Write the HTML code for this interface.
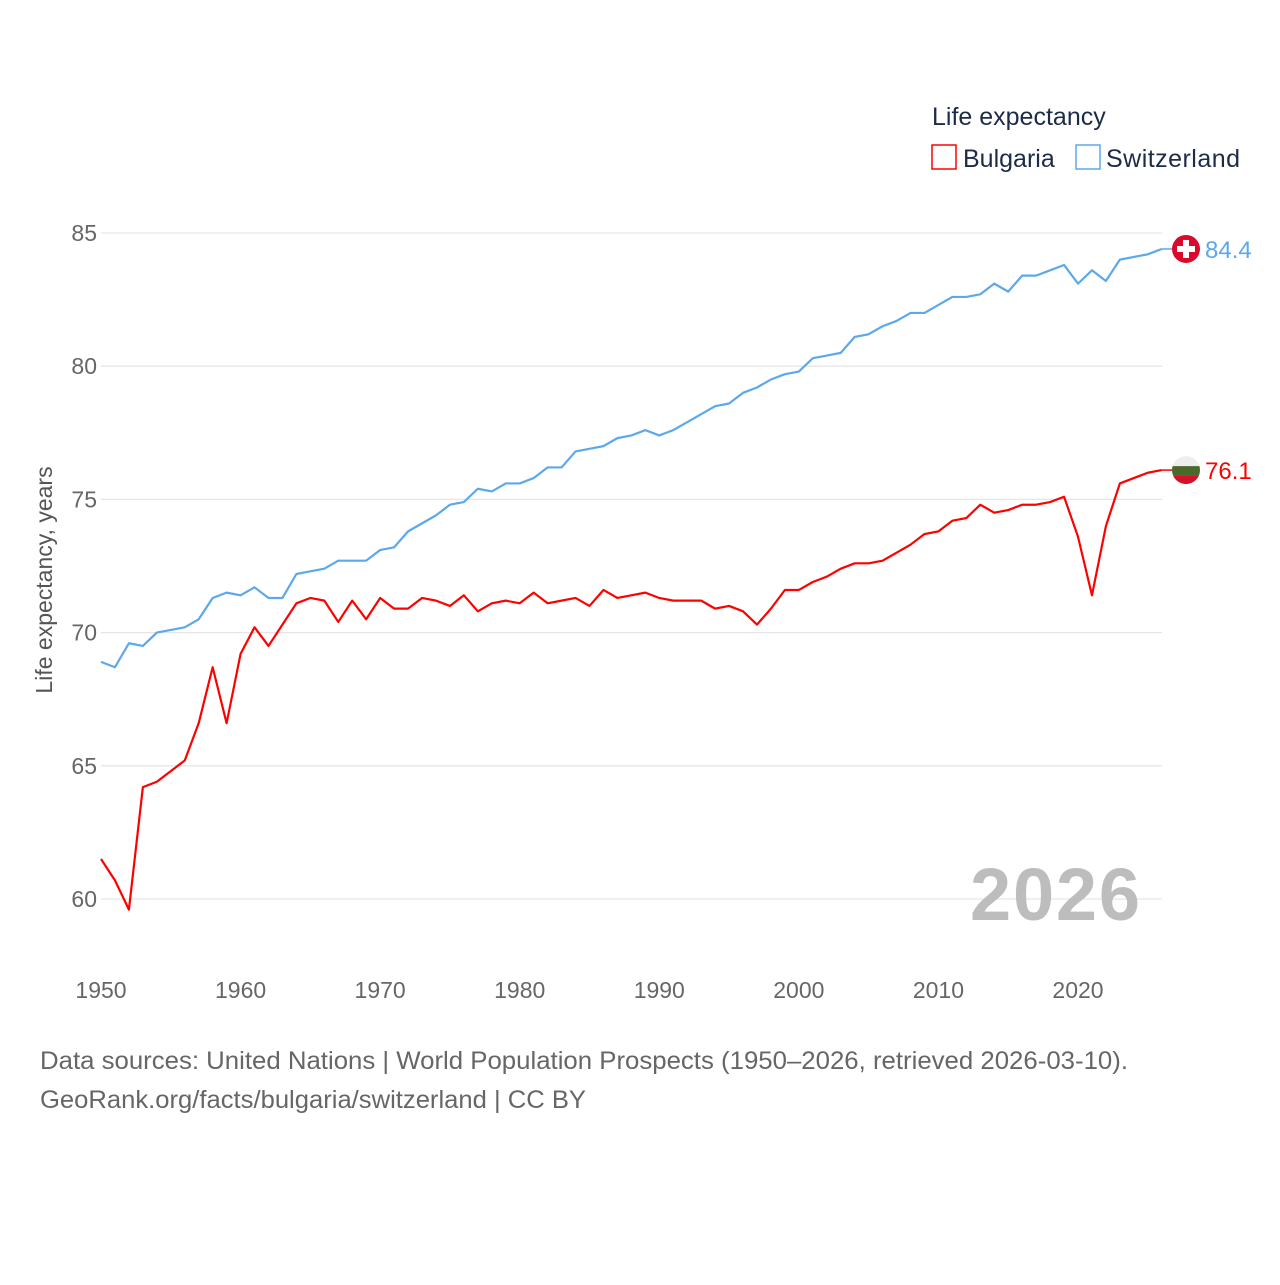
<!DOCTYPE html>
<html><head><meta charset="utf-8"><style>
body{margin:0;background:#fff;font-family:"Liberation Sans",sans-serif}
svg text{font-family:"Liberation Sans",sans-serif}
</style></head><body>
<svg width="1280" height="1280" viewBox="0 0 1280 1280" xmlns="http://www.w3.org/2000/svg">
<rect width="1280" height="1280" fill="#fff"/>
<g id="grid"></g>
<g id="yticks"></g>
<g id="xticks"></g>
<text x="1055" y="920" font-size="74" font-weight="bold" fill="#bdbdbd" text-anchor="middle" textLength="170">2026</text>
<text transform="translate(52,580) rotate(-90)" font-size="23" fill="#555" text-anchor="middle">Life expectancy, years</text>
<g id="series"></g>
<g>
<text x="932" y="125" font-size="25" fill="#1c2b48">Life expectancy</text>
<g><rect x="932" y="145" width="24" height="24" fill="none" stroke="#f00" stroke-width="1.5"/><text x="963" y="167" font-size="25" fill="#1c2b48">Bulgaria</text></g>
<g><rect x="1076" y="145" width="24" height="24" fill="none" stroke="#5ca8ec" stroke-width="1.5"/><text x="1106" y="167" font-size="25" fill="#1c2b48" textLength="134">Switzerland</text></g>
</g>
<text x="40" y="1069" font-size="25" fill="#666" textLength="1088" lengthAdjust="spacingAndGlyphs">Data sources: United Nations | World Population Prospects (1950–2026, retrieved 2026-03-10).</text>
<text x="40" y="1108" font-size="25" fill="#666" textLength="546" lengthAdjust="spacingAndGlyphs">GeoRank.org/facts/bulgaria/switzerland | CC BY</text>
</svg>
<script>
const years=[];for(let y=1950;y<=2026;y++)years.push(y);
const bulgaria=[61.5,60.7,59.6,64.2,64.4,64.8,65.2,66.6,68.7,66.6,69.2,70.2,69.5,70.3,71.1,71.3,71.2,70.4,71.2,70.5,71.3,70.9,70.9,71.3,71.2,71.0,71.4,70.8,71.1,71.2,71.1,71.5,71.1,71.2,71.3,71.0,71.6,71.3,71.4,71.5,71.3,71.2,71.2,71.2,70.9,71.0,70.8,70.3,70.9,71.6,71.6,71.9,72.1,72.4,72.6,72.6,72.7,73.0,73.3,73.7,73.8,74.2,74.3,74.8,74.5,74.6,74.8,74.8,74.9,75.1,73.6,71.4,74.0,75.6,75.8,76.0,76.1];
const switzerland=[68.9,68.7,69.6,69.5,70.0,70.1,70.2,70.5,71.3,71.5,71.4,71.7,71.3,71.3,72.2,72.3,72.4,72.7,72.7,72.7,73.1,73.2,73.8,74.1,74.4,74.8,74.9,75.4,75.3,75.6,75.6,75.8,76.2,76.2,76.8,76.9,77.0,77.3,77.4,77.6,77.4,77.6,77.9,78.2,78.5,78.6,79.0,79.2,79.5,79.7,79.8,80.3,80.4,80.5,81.1,81.2,81.5,81.7,82.0,82.0,82.3,82.6,82.6,82.7,83.1,82.8,83.4,83.4,83.6,83.8,83.1,83.6,83.2,84.0,84.1,84.2,84.4];
const yTicks=[60,65,70,75,80,85];
const xTicks=[1950,1960,1970,1980,1990,2000,2010,2020];
const NS="http://www.w3.org/2000/svg";
const X=v=>101+(v-1950)*(1078-101)/70;
const Y=v=>233+(85-v)*(899-233)/25;
function mk(tag,attrs,parent){const e=document.createElementNS(NS,tag);for(const k in attrs)e.setAttribute(k,attrs[k]);parent.appendChild(e);return e;}
const grid=document.getElementById('grid'),yt=document.getElementById('yticks'),xt=document.getElementById('xticks'),ser=document.getElementById('series');
yTicks.forEach(t=>{
 const l=mk('line',{x1:101,x2:1162,y1:Y(t),y2:Y(t),stroke:'#e6e6e6','stroke-width':1.3},grid);
 
 
 const tx=mk('text',{x:97,y:Y(t)+8,'font-size':23,fill:'#666','text-anchor':'end'},yt);tx.textContent=t;
 
 
});
xTicks.forEach(t=>{
 const tx=mk('text',{x:X(t),y:998,'font-size':23,fill:'#666','text-anchor':'middle'},xt);tx.textContent=t;
 
 
});
function line(data,color,name){
 const p=mk('polyline',{points:data.map((v,i)=>X(years[i])+','+Y(v)).join(' '),fill:'none',stroke:color,'stroke-width':2.2,'stroke-linejoin':'round'},ser);
 
 
 const last=data[data.length-1],lx=X(years[years.length-1]),ly=Y(last);
 mk('line',{x1:lx,x2:1172,y1:ly,y2:ly,stroke:color,'stroke-width':1.5},ser);
 const g=mk('g',{},ser);
 
 
 const cx=1186;
 if(name==='switzerland'){
  mk('circle',{cx:cx,cy:ly,r:14,fill:'#da0a2c'},g);
  mk('rect',{x:cx-3,y:ly-9,width:6,height:18,fill:'#fff'},g);
  mk('rect',{x:cx-9,y:ly-3,width:18,height:6,fill:'#fff'},g);
 }else{
  const cp=mk('clipPath',{id:'bgc'},g);mk('circle',{cx:cx,cy:ly,r:14},cp);
  const gg=mk('g',{'clip-path':'url(#bgc)'},g);
  mk('rect',{x:cx-14,y:ly-14,width:28,height:10,fill:'#eee'},gg);
  mk('rect',{x:cx-14,y:ly-4,width:28,height:9,fill:'#4a6a2c'},gg);
  mk('rect',{x:cx-14,y:ly+5,width:28,height:10,fill:'#d70f2d'},gg);
 }
 const t=mk('text',{x:1205,y:ly+9,'font-size':24,fill:color},ser);t.textContent=last.toFixed(1);
 
 
}
line(switzerland,'#5ca8ec','switzerland');
line(bulgaria,'#ff0000','bulgaria');
</script>
</body></html>
